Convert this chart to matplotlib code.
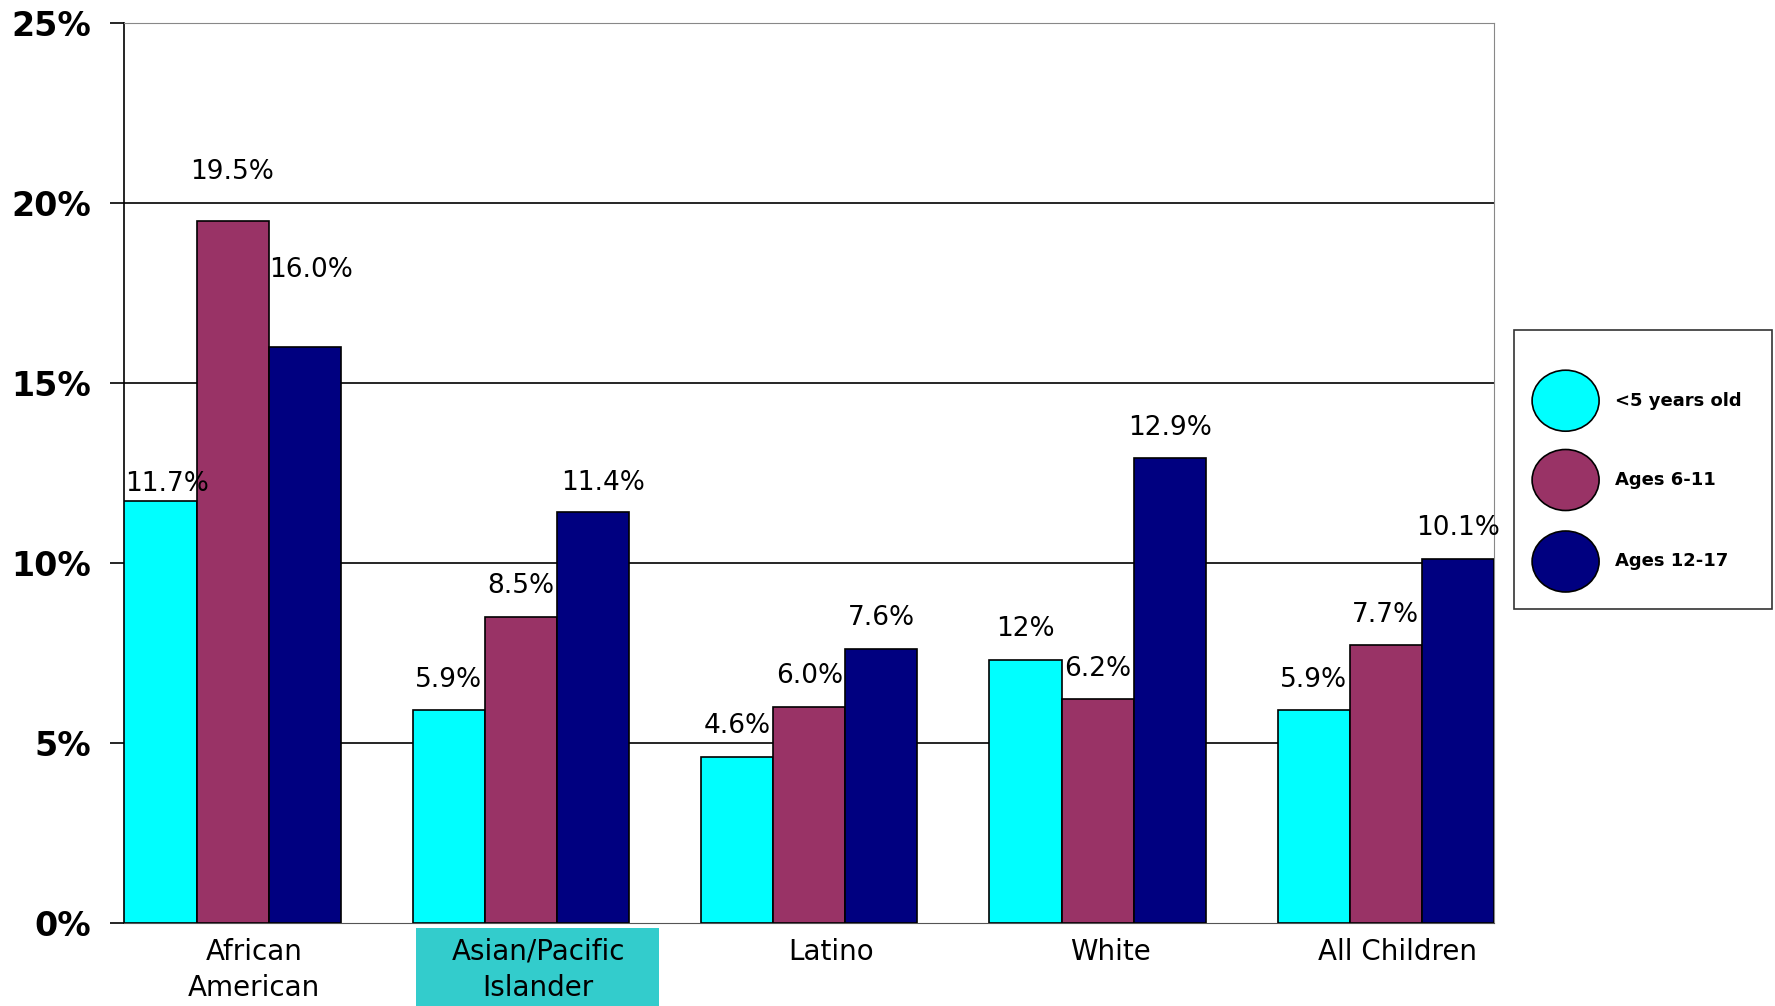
import matplotlib
matplotlib.use("Agg")
import matplotlib.pyplot as plt
from matplotlib.patches import Ellipse, Rectangle
import numpy as np

categories = ["African\nAmerican", "Asian/Pacific\nIslander", "Latino", "White", "All Children"]
series_names = ["<5 years old", "Ages 6-11", "Ages 12-17"]
under5 = [11.7, 5.9, 4.6, 7.3, 5.9]
ages6_11 = [19.5, 8.5, 6.0, 6.2, 7.7]
ages12_17 = [16.0, 11.4, 7.6, 12.9, 10.1]
labels_under5 = ["11.7%", "5.9%", "4.6%", "12%", "5.9%"]
labels_6_11 = ["19.5%", "8.5%", "6.0%", "6.2%", "7.7%"]
labels_12_17 = ["16.0%", "11.4%", "7.6%", "12.9%", "10.1%"]
yticks = [0, 5, 10, 15, 20, 25]
ytick_labels = ["0%", "5%", "10%", "15%", "20%", "25%"]

colors = ["#00FFFF", "#993366", "#000080"]
FONT = ["DejaVu Sans"]
plt.rcParams['font.family'] = FONT

W, H = 1775, 1006
fig = plt.figure(figsize=(W / 100, H / 100), dpi=100)
ax = fig.add_axes([0.0701, 0.0829, 0.7716, 0.8946])

x = np.arange(len(categories))
w = 0.25
series = [under5, ages6_11, ages12_17]
labels = [labels_under5, labels_6_11, labels_12_17]

ax.set_ylim(0, 25)
ax.set_xlim(-0.375, 4.375)
ax.set_yticks(yticks)
ax.set_yticklabels(ytick_labels, fontsize=24, fontweight='bold')
for yv in yticks[1:]:
    ax.axhline(yv, color='black' if yv < 25 else '#888888', lw=1.2, zorder=1)

bars_all = []
for i, (vals, c) in enumerate(zip(series, colors)):
    bars = ax.bar(x + (i - 1) * w, vals, width=w, color=c, edgecolor='black', lw=1.2, zorder=3)
    bars_all.append(bars)

# label offsets (x, y) in points
k = 0.815
default = (0, 27)
special = {(0, 0): (6, 15), (1, 0): (0, 43), (2, 0): (6, 68), (2, 1): (9, 26)}
for i in range(3):
    for j, b in enumerate(bars_all[i]):
        dx, dy = special.get((i, j), default)
        ax.annotate(labels[i][j], (b.get_x() + b.get_width() / 2, b.get_height()),
                    xytext=(dx * k, dy * k), textcoords='offset points',
                    ha='center', va='center', fontsize=19, zorder=5)

tick_shift = [0.075, 0.06, 0.075, 0.043, 0.04]
ax.set_xticks(x + np.array(tick_shift))
ax.set_xticklabels(categories, fontsize=20, linespacing=1.35)
ax.tick_params(axis='x', length=0, pad=11)
ax.tick_params(axis='y', length=10, width=1.2, pad=14, direction='out')

# highlighted box behind "Asian/Pacific Islander"
fig.add_artist(Rectangle((415.5 / W, 0), (659 - 415.5) / W, (1006 - 928) / H,
                         transform=fig.transFigure, facecolor='#33CCCC',
                         edgecolor='none', zorder=-1))

for s in ['top', 'right']:
    ax.spines[s].set_color('#888888')
ax.spines['left'].set_color('black')
ax.spines['bottom'].set_color('#555555')
ax.spines['left'].set_linewidth(1.2)

# legend drawn manually (pixel coords from top-left)
def fx(px):
    return px / W

def fy(py):
    return 1 - py / H

fig.add_artist(Rectangle((fx(1513.5), fy(609)), (1771.5 - 1513.5) / W, (609 - 329.5) / H,
                         transform=fig.transFigure, facecolor='white',
                         edgecolor='#333333', lw=1.2, zorder=5))
for name, c, cy in zip(series_names, colors, [400.7, 480.0, 561.5]):
    fig.add_artist(Ellipse((fx(1565.6), fy(cy)), 67 / W, 61 / H, transform=fig.transFigure,
                           facecolor=c, edgecolor='black', lw=1.2, zorder=6))
    fig.text(fx(1615), fy(cy), name, ha='left', va='center', fontsize=13,
             fontweight='bold', zorder=7)

fig.savefig("out.png", dpi=100)
